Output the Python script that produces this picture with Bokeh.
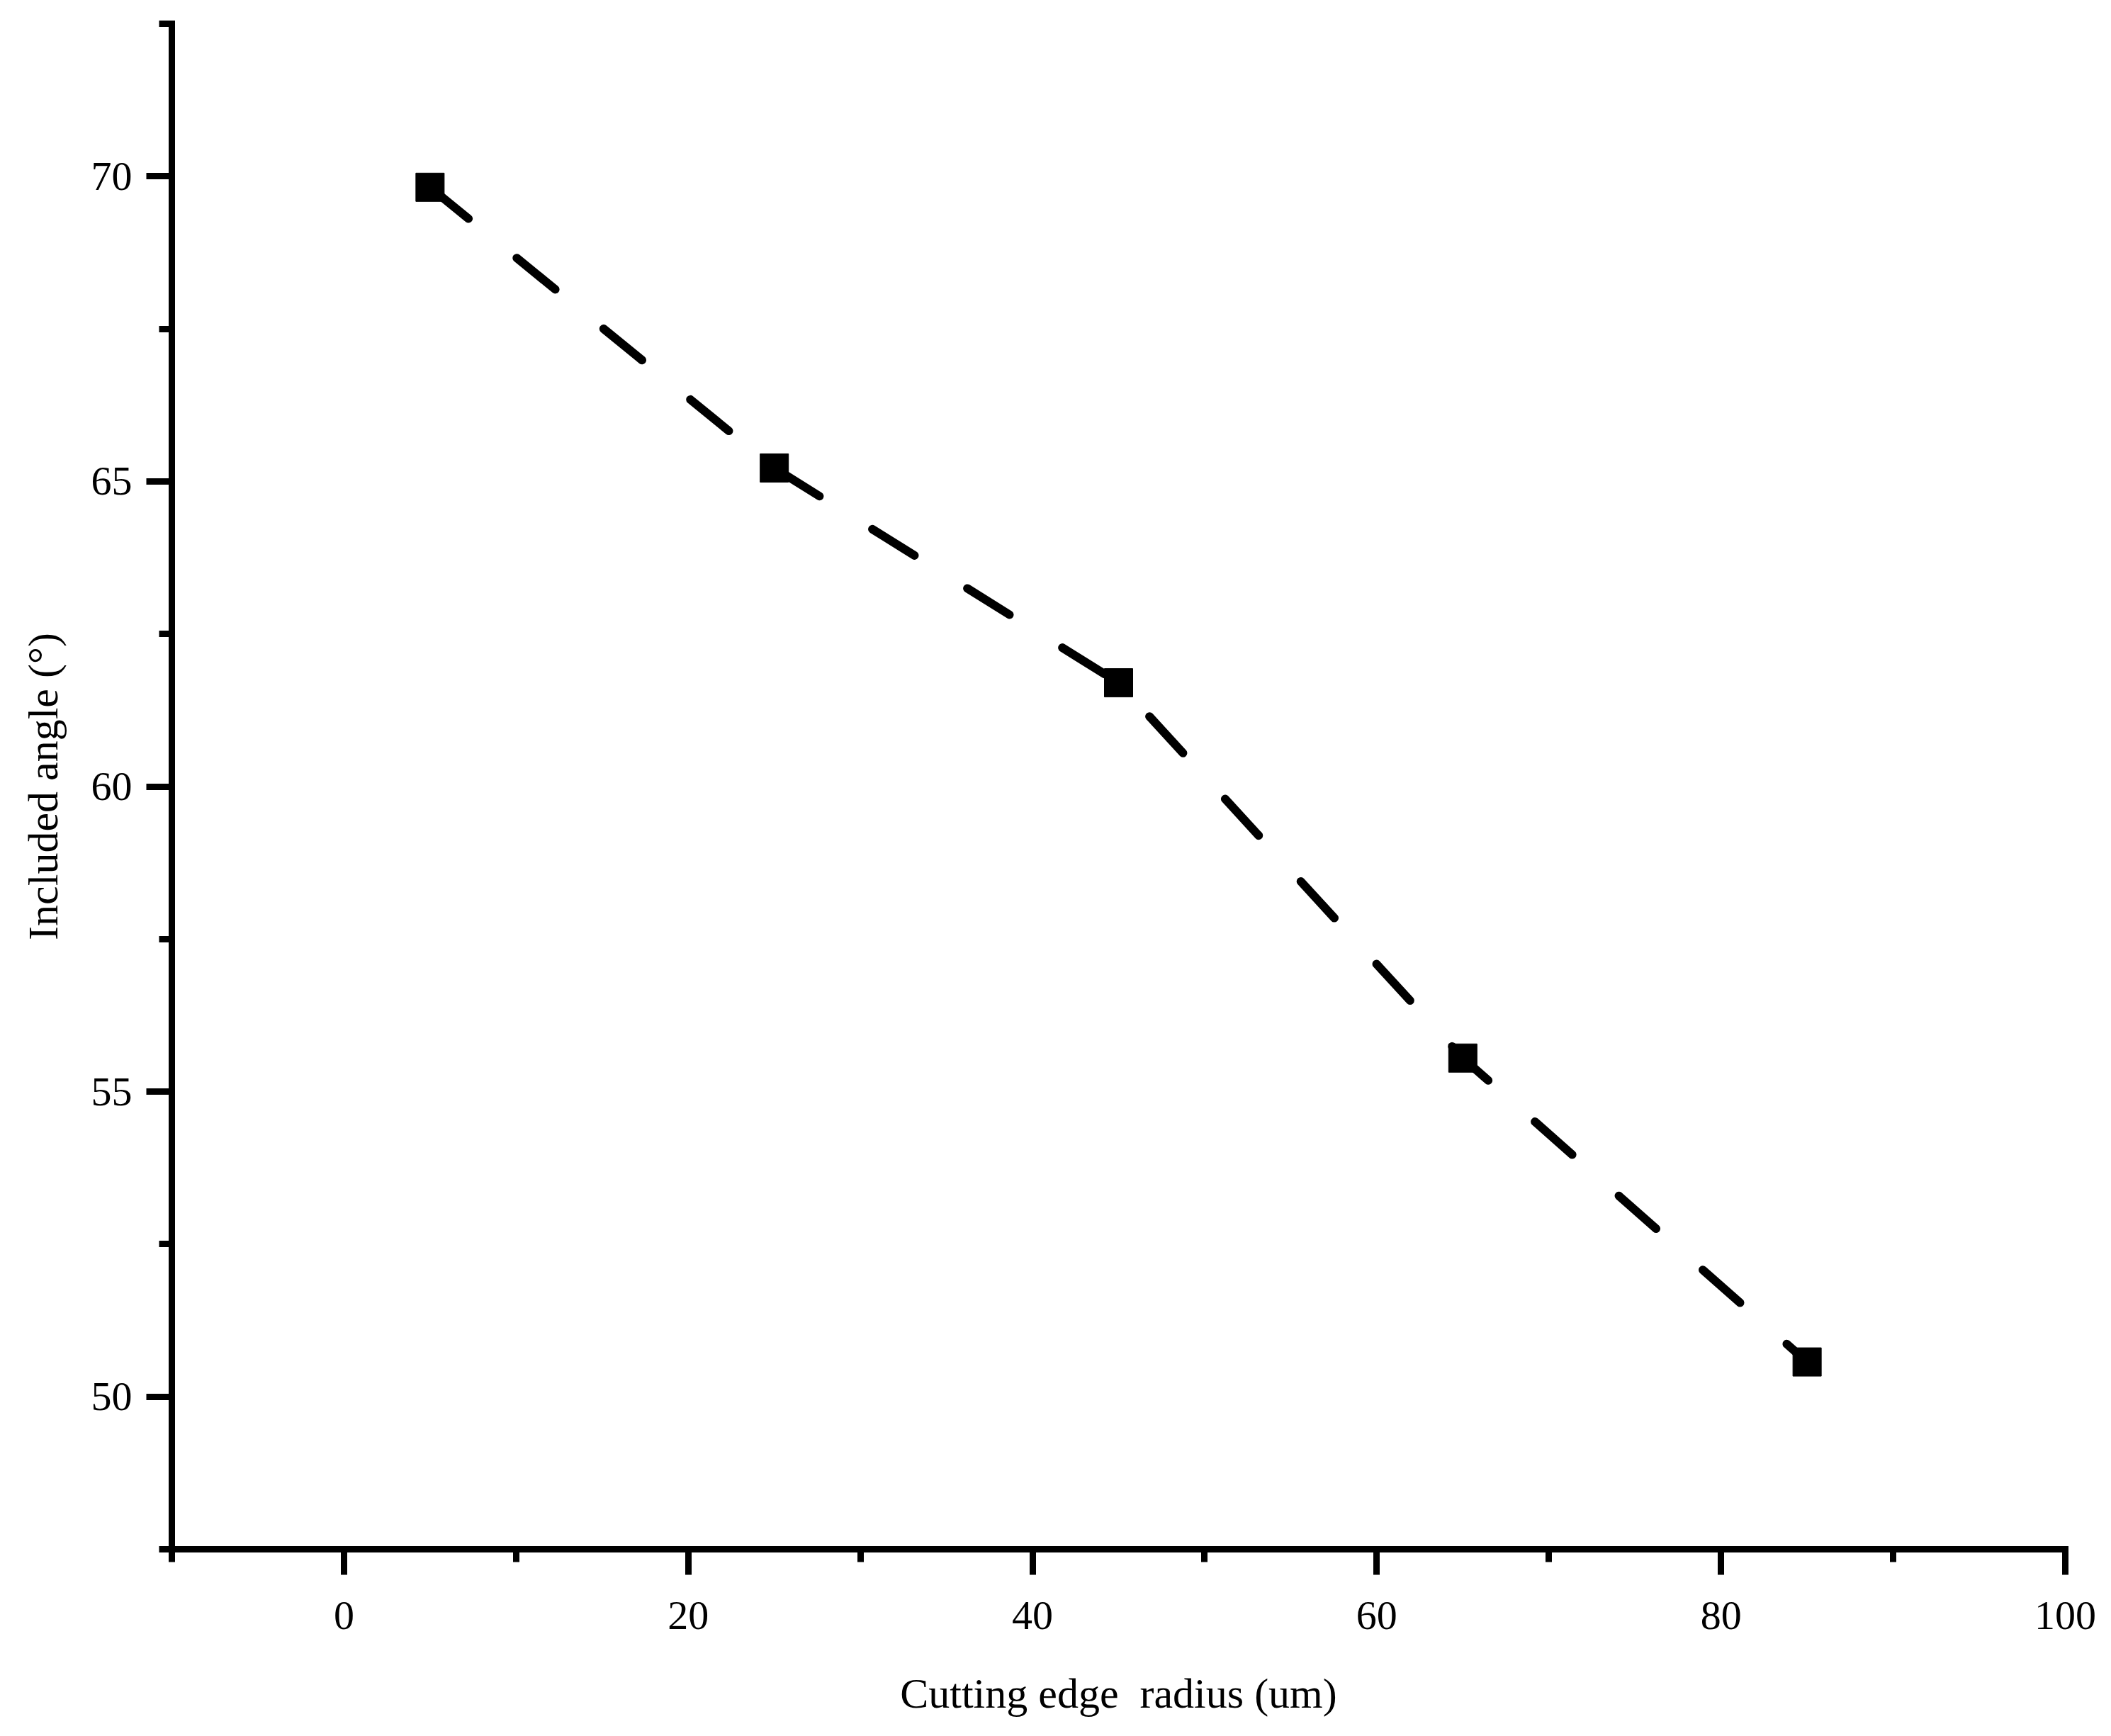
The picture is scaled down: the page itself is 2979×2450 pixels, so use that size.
from bokeh.plotting import figure
from bokeh.models import FixedTicker, Range1d
from bokeh.embed import file_html
from bokeh.resources import INLINE

radius = [5, 25, 45, 65, 85]
angle = [69.82, 65.22, 61.70, 55.55, 50.57]
x_major = [0, 20, 40, 60, 80, 100]
x_minor = [-10, 10, 30, 50, 70, 90]
y_major = [50, 55, 60, 65, 70]
y_minor = [47.5, 52.5, 57.5, 62.5, 67.5, 72.5]

FONT = "Liberation Serif"

p = figure(width=2963, height=2434, output_backend="svg", toolbar_location=None,
           x_range=Range1d(-10, 100), y_range=Range1d(47.5, 72.5),
           min_border_left=242, min_border_right=49, min_border_top=33, min_border_bottom=248)
p.outline_line_color = None
p.grid.visible = False
p.background_fill_color = "white"
p.border_fill_color = "white"

p.line(radius, angle, line_color="black", line_width=12, line_dash="70 88", line_cap="round")
p.scatter(radius, angle, marker="square", size=40, fill_color="black", line_color="black")

for ax, maj, mnr in ((p.xaxis[0], x_major, x_minor), (p.yaxis[0], y_major, y_minor)):
    ax.ticker = FixedTicker(ticks=maj, minor_ticks=mnr)
    ax.axis_line_width = 9
    ax.axis_line_color = "black"
    ax.axis_line_cap = "square"
    ax.major_tick_line_width = 9
    ax.minor_tick_line_width = 9
    ax.major_tick_line_color = "black"
    ax.minor_tick_line_color = "black"
    ax.major_tick_in = 0
    ax.minor_tick_in = 0
    ax.major_tick_out = 36
    ax.minor_tick_out = 18
    ax.major_label_text_font = FONT
    ax.major_label_text_font_size = "58px"
    ax.major_label_text_color = "black"
    ax.axis_label_text_font = FONT
    ax.axis_label_text_font_size = "60px"
    ax.axis_label_text_font_style = "normal"
    ax.axis_label_text_color = "black"

p.xaxis.axis_label = "Cutting edge\u00a0 radius (um)"
p.yaxis.axis_label = "Included angle (°)"
p.xaxis.major_label_standoff = 38
p.xaxis.axis_label_standoff = 55
p.yaxis.major_label_standoff = 20
p.yaxis.axis_label_standoff = 32

open("out.html", "w").write(file_html(p, INLINE))
